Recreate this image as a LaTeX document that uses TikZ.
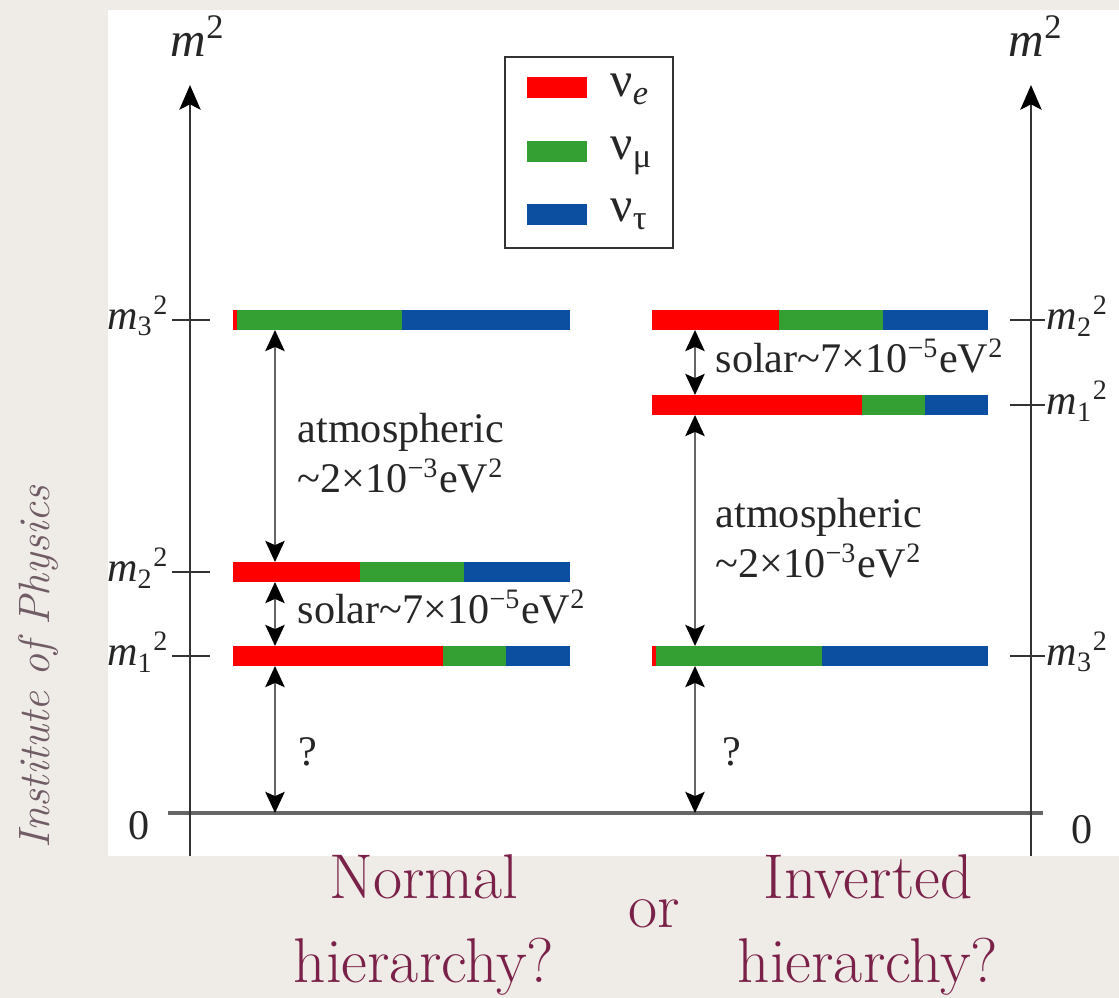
\documentclass[tikz,border=0pt]{standalone}
\usepackage{fontspec}
\newfontfamily\timesfont{Liberation Serif}
\usepackage{tikz}
\usetikzlibrary{arrows.meta}
\definecolor{nhred}{HTML}{FF0000}
\definecolor{nhgreen}{HTML}{34A034}
\definecolor{nhblue}{HTML}{0C4EA0}
\definecolor{nhpaper}{HTML}{EFEBE6}
\definecolor{nhplum}{HTML}{7A2149}
\definecolor{nhgrey}{HTML}{6F5C65}

\newcommand{\levelbar}[6]{%
  \fill[nhred] (#2,#6-0.1) rectangle (#3,#6+0.1);
  \fill[nhgreen] (#3,#6-0.1) rectangle (#4,#6+0.1);
  \fill[nhblue] (#4,#6-0.1) rectangle (#5,#6+0.1);
  \node[lvl,minimum width={(#5-#2)*1cm}] (#1) at ({(#2+#5)/2},#6) {};}
\newcommand{\msq}[1]{\textit{m}\textsubscript{#1}\textsuperscript{2}}

\begin{document}
\begin{tikzpicture}[
  lvl/.style={inner sep=0pt,outer sep=0pt,minimum height=2mm},
  axis/.style={-{Stealth[length=7pt,width=6pt,inset=1.5pt,color=black]},line width=0.8pt,black!80},
  dbl/.style={{Stealth[length=6pt,width=5.5pt,inset=1.2pt,color=black]}-{Stealth[length=6pt,width=5.5pt,inset=1.2pt,color=black]},
    line width=0.7pt,black!60},
  tick/.style={line width=0.7pt,black!80},
  lab/.style={font=\timesfont\fontsize{12}{14.2}\selectfont,text=black!85,inner sep=0pt},
  big/.style={font=\timesfont\fontsize{14}{16}\selectfont,text=black!85,inner sep=0pt},
  sw/.style={inner sep=0pt,minimum width=6mm,minimum height=2.1mm},
  hq/.style={font=\fontsize{18}{23.9}\selectfont,text=nhplum,align=center,inner sep=0pt}]
  \useasboundingbox (0,0) rectangle (11.19,9.98);
  \fill[nhpaper] (0,0) rectangle (11.19,9.98);
  \fill[white] (1.08,1.42) rectangle (11.19,9.88);

  \node[rotate=90,anchor=base,font=\itshape\fontsize{12.5}{15}\selectfont,text=nhgrey] (iop)
    at (0.50,3.31) {Institute of Physics};

  \draw[line width=1.1pt,black!60] (1.68,1.85) -- (10.43,1.85);
  \coordinate (zero) at (0,1.85);

  \coordinate (axLb) at (1.90,1.42);
  \coordinate (axLt) at (1.90,9.13);
  \coordinate (axRb) at (10.31,1.42);
  \coordinate (axRt) at (10.31,9.13);
  \draw[axis] (axLb) -- (axLt);
  \draw[axis] (axRb) -- (axRt);
  \node[big,anchor=base] (mL) at (1.98,9.41) {\textit{m}\textsuperscript{2}};
  \node[big,anchor=base] (mR) at (10.36,9.41) {\textit{m}\textsuperscript{2}};

  \foreach \y in {6.78,4.26,3.42} \draw[tick] (1.72,\y) -- (2.10,\y);
  \foreach \y in {6.78,5.93,3.42} \draw[tick] (10.10,\y) -- (10.45,\y);
  \node[lab,anchor=east] (tL3) at (1.70,6.82) {\msq{3}};
  \node[lab,anchor=east] (tL2) at (1.70,4.30) {\msq{2}};
  \node[lab,anchor=east] (tL1) at (1.70,3.46) {\msq{1}};
  \node[lab,anchor=east] (tL0) at (1.50,1.72) {0};
  \node[lab,anchor=west] (tR2) at (10.46,6.82) {\msq{2}};
  \node[lab,anchor=west] (tR1) at (10.46,5.97) {\msq{1}};
  \node[lab,anchor=west] (tR3) at (10.46,3.46) {\msq{3}};
  \node[lab,anchor=west] (tR0) at (10.71,1.68) {0};

  \node[draw,line width=0.8pt,black!80,inner sep=0pt,minimum width=16.8mm,minimum height=19.1mm]
    (legend) at (5.89,8.455) {};
  \node[sw,fill=nhred] (swE) at (5.57,9.10) {};
  \node[sw,fill=nhgreen] (swM) at (5.57,8.46) {};
  \node[sw,fill=nhblue] (swT) at (5.57,7.83) {};
  \node[big,anchor=base west] (nuE) at (6.10,9.01) {ν\textsubscript{\textit{e}}};
  \node[big,anchor=base west] (nuM) at (6.10,8.38) {ν\textsubscript{μ}};
  \node[big,anchor=base west] (nuT) at (6.10,7.76) {ν\textsubscript{τ}};

  \levelbar{nh3}{2.33}{2.37}{4.02}{5.70}{6.78}
  \levelbar{nh2}{2.33}{3.60}{4.64}{5.70}{4.26}
  \levelbar{nh1}{2.33}{4.43}{5.06}{5.70}{3.42}
  \levelbar{ih2}{6.52}{7.79}{8.83}{9.88}{6.78}
  \levelbar{ih1}{6.52}{8.62}{9.25}{9.88}{5.93}
  \levelbar{ih3}{6.52}{6.56}{8.22}{9.88}{3.42}

  \coordinate (nhx) at (2.75,0);
  \coordinate (ihx) at (6.95,0);
  \draw[dbl] (nhx |- nh3.south) -- (nhx |- nh2.north);
  \draw[dbl] (nhx |- nh2.south) -- (nhx |- nh1.north);
  \draw[dbl] (nhx |- nh1.south) -- (nhx |- zero);
  \draw[dbl] (ihx |- ih2.south) -- (ihx |- ih1.north);
  \draw[dbl] (ihx |- ih1.south) -- (ihx |- ih3.north);
  \draw[dbl] (ihx |- ih3.south) -- (ihx |- zero);

  \node[lab,anchor=north west,align=left] (nhatm) at (2.97,5.85)
    {atmospheric\\\textasciitilde2×10\textsuperscript{−3}eV\textsuperscript{2}};
  \node[lab,anchor=base west] (nhsol) at (2.97,3.74)
    {solar\textasciitilde7×10\textsuperscript{−5}eV\textsuperscript{2}};
  \node[lab,anchor=base west] (nhq) at (2.98,2.32) {?};
  \node[lab,anchor=base west] (ihsol) at (7.15,6.25)
    {solar\textasciitilde7×10\textsuperscript{−5}eV\textsuperscript{2}};
  \node[lab,anchor=north west,align=left] (ihatm) at (7.15,5.00)
    {atmospheric\\\textasciitilde2×10\textsuperscript{−3}eV\textsuperscript{2}};
  \node[lab,anchor=base west] (ihq) at (7.22,2.32) {?};

  \node[hq,anchor=north] (normal) at (4.24,1.44) {Normal\\hierarchy?};
  \node[hq,anchor=north] (inverted) at (8.68,1.44) {Inverted\\hierarchy?};
  \node[hq,anchor=base] (or) at (6.54,0.70) {or};
\end{tikzpicture}
\end{document}
